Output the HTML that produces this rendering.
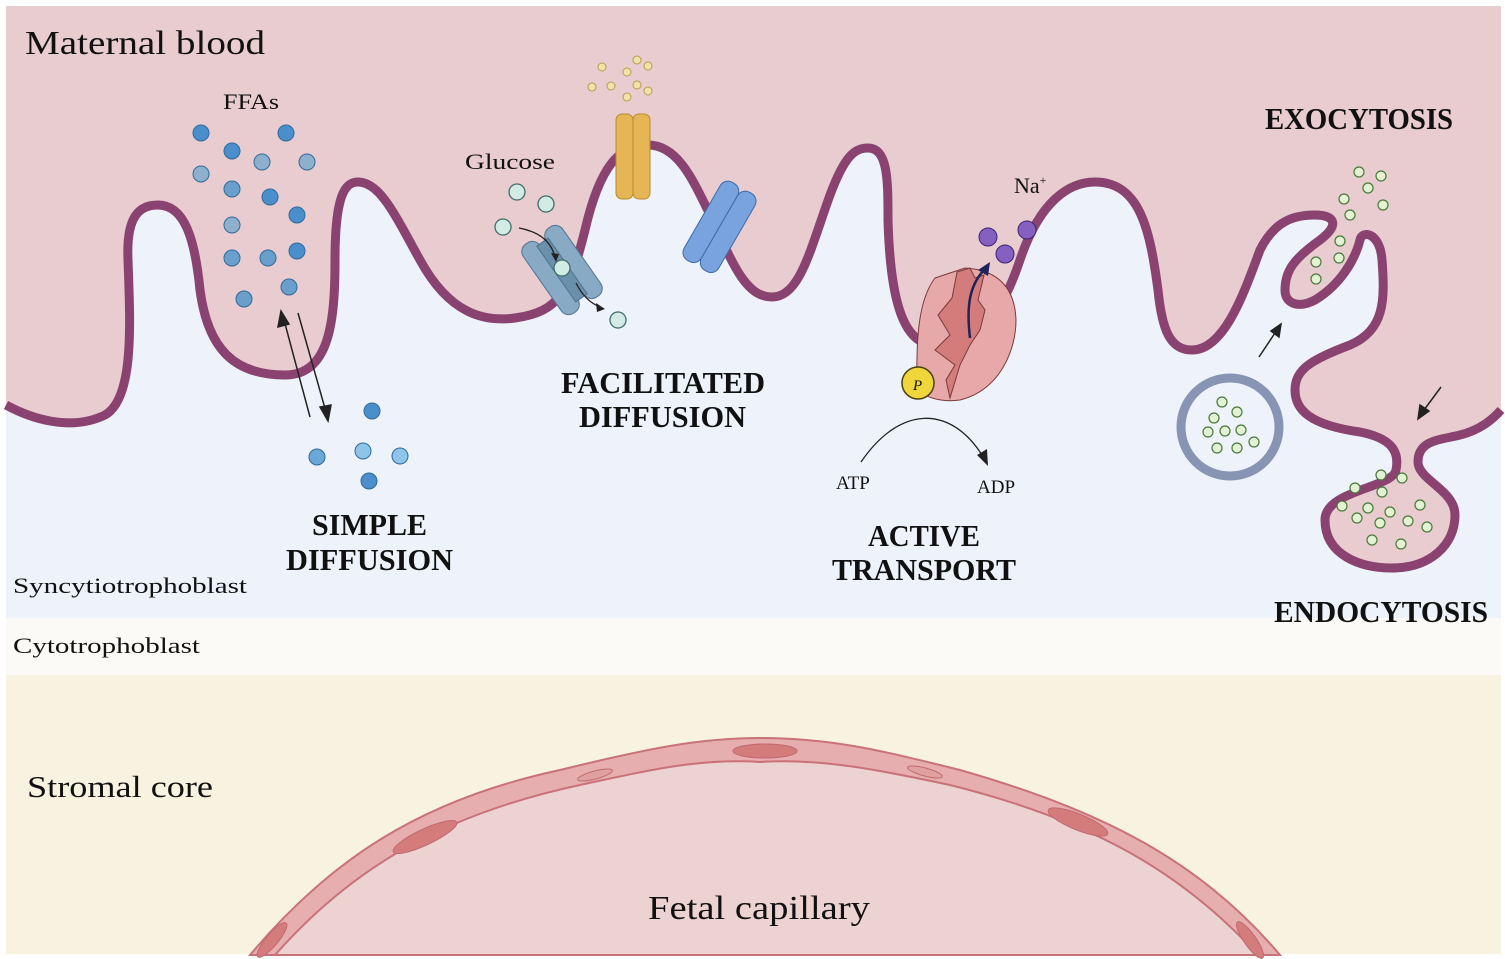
<!DOCTYPE html>
<html><head><meta charset="utf-8"><style>
html,body{margin:0;padding:0;background:#fff;}
svg{display:block;}
text{font-family:"Liberation Serif",serif;fill:#111;}
.b{font-weight:bold;font-size:31px;}
</style></head><body>
<svg width="1505" height="959" viewBox="0 0 1505 959" xmlns="http://www.w3.org/2000/svg">
<rect x="0" y="0" width="1505" height="959" fill="#fff"/>
<rect x="6" y="6" width="1495" height="612" fill="#eef3fb"/>
<rect x="6" y="618" width="1495" height="57" fill="#fcfaf6"/>
<rect x="6" y="675" width="1495" height="279" fill="#f8f2e0"/>
<path d="M250,955 C330,860 420,800 560,770 C650,748 700,738 760,738 C830,738 880,750 960,770 C1100,810 1200,860 1280,955 Z" fill="#e6aeae" stroke="#c9727a" stroke-width="2"/>
<path d="M275,955 C350,870 440,815 580,785 C650,770 700,758 760,762 C820,758 880,770 950,785 C1090,820 1180,870 1258,955 Z" fill="#ecd3d2" stroke="#c9727a" stroke-width="2"/>
<ellipse cx="765" cy="751" rx="32" ry="7" fill="#d47c7c" stroke="#c06a70"/>
<ellipse cx="425" cy="837" rx="35" ry="8" transform="rotate(-25 425 837)" fill="#d47c7c" stroke="#c06a70"/>
<ellipse cx="1078" cy="822" rx="32" ry="8" transform="rotate(22 1078 822)" fill="#d47c7c" stroke="#c06a70"/>
<ellipse cx="272" cy="940" rx="22" ry="6" transform="rotate(-50 272 940)" fill="#d47c7c" stroke="#c06a70"/>
<ellipse cx="1250" cy="940" rx="22" ry="6" transform="rotate(55 1250 940)" fill="#d47c7c" stroke="#c06a70"/>
<ellipse cx="595" cy="775" rx="18" ry="4" transform="rotate(-15 595 775)" fill="#e0a0a0" stroke="#c06a70"/>
<ellipse cx="925" cy="772" rx="18" ry="4" transform="rotate(15 925 772)" fill="#e0a0a0" stroke="#c06a70"/>
<path d="M6,405 C30,418 70,432 105,415 C135,398 130,320 128,260 C126,215 140,205 158,205 C185,205 195,240 200,290 C208,350 235,375 285,375 C330,375 335,320 335,260 C335,195 345,182 358,182 C380,182 395,215 420,260 C450,315 485,322 515,318 C560,312 570,290 585,230 C600,165 620,145 648,145 C680,145 695,185 715,225 C735,270 748,297 772,297 C800,297 810,250 830,195 C845,155 855,148 868,148 C888,148 888,180 888,220 C890,290 900,345 935,345 C975,345 1000,320 1020,260 C1040,200 1070,182 1095,182 C1140,182 1150,230 1158,290 C1162,330 1170,350 1192,350 C1225,350 1245,290 1260,250 C1275,220 1295,215 1315,215 C1335,215 1340,225 1320,240 C1295,258 1285,270 1285,290 C1285,305 1300,308 1315,300 C1340,285 1355,260 1360,240 C1362,230 1380,232 1382,260 C1385,300 1385,330 1350,345 C1310,360 1295,370 1295,390 C1295,410 1310,425 1360,432 C1390,438 1400,450 1396,470 C1393,488 1325,490 1325,520 C1325,555 1360,568 1392,568 C1430,568 1455,545 1455,515 C1455,490 1418,480 1418,462 C1418,440 1440,440 1460,435 C1480,430 1492,420 1501,410 L1501,6 L6,6 Z" fill="#e8ccd0"/>
<path d="M6,405 C30,418 70,432 105,415 C135,398 130,320 128,260 C126,215 140,205 158,205 C185,205 195,240 200,290 C208,350 235,375 285,375 C330,375 335,320 335,260 C335,195 345,182 358,182 C380,182 395,215 420,260 C450,315 485,322 515,318 C560,312 570,290 585,230 C600,165 620,145 648,145 C680,145 695,185 715,225 C735,270 748,297 772,297 C800,297 810,250 830,195 C845,155 855,148 868,148 C888,148 888,180 888,220 C890,290 900,345 935,345 C975,345 1000,320 1020,260 C1040,200 1070,182 1095,182 C1140,182 1150,230 1158,290 C1162,330 1170,350 1192,350 C1225,350 1245,290 1260,250 C1275,220 1295,215 1315,215 C1335,215 1340,225 1320,240 C1295,258 1285,270 1285,290 C1285,305 1300,308 1315,300 C1340,285 1355,260 1360,240 C1362,230 1380,232 1382,260 C1385,300 1385,330 1350,345 C1310,360 1295,370 1295,390 C1295,410 1310,425 1360,432 C1390,438 1400,450 1396,470 C1393,488 1325,490 1325,520 C1325,555 1360,568 1392,568 C1430,568 1455,545 1455,515 C1455,490 1418,480 1418,462 C1418,440 1440,440 1460,435 C1480,430 1492,420 1501,410" fill="none" stroke="#8a4270" stroke-width="9" stroke-linejoin="round"/>
<text x="25" y="54" font-size="34" textLength="240" lengthAdjust="spacingAndGlyphs">Maternal blood</text>
<text x="223" y="109" font-size="22" textLength="56" lengthAdjust="spacingAndGlyphs">FFAs</text>
<text x="465" y="169" font-size="22" textLength="90" lengthAdjust="spacingAndGlyphs">Glucose</text>
<text x="1014" y="193" font-size="22">Na<tspan font-size="12" dy="-9">+</tspan></text>
<text x="1265" y="129" class="b" textLength="188" lengthAdjust="spacingAndGlyphs">EXOCYTOSIS</text>
<text x="312" y="535" class="b" textLength="115" lengthAdjust="spacingAndGlyphs">SIMPLE</text>
<text x="286" y="570" class="b" textLength="167" lengthAdjust="spacingAndGlyphs">DIFFUSION</text>
<text x="561" y="393" class="b" textLength="204" lengthAdjust="spacingAndGlyphs">FACILITATED</text>
<text x="579" y="427" class="b" textLength="167" lengthAdjust="spacingAndGlyphs">DIFFUSION</text>
<text x="868" y="546" class="b" textLength="112" lengthAdjust="spacingAndGlyphs">ACTIVE</text>
<text x="832" y="580" class="b" textLength="184" lengthAdjust="spacingAndGlyphs">TRANSPORT</text>
<text x="1274" y="622" class="b" textLength="214" lengthAdjust="spacingAndGlyphs">ENDOCYTOSIS</text>
<text x="13" y="593" font-size="22" textLength="234" lengthAdjust="spacingAndGlyphs">Syncytiotrophoblast</text>
<text x="13" y="653" font-size="22" textLength="187" lengthAdjust="spacingAndGlyphs">Cytotrophoblast</text>
<text x="27" y="797" font-size="31" textLength="186" lengthAdjust="spacingAndGlyphs">Stromal core</text>
<text x="648" y="919" font-size="34" textLength="222" lengthAdjust="spacingAndGlyphs">Fetal capillary</text>
<text x="836" y="489" font-size="19">ATP</text>
<text x="977" y="493" font-size="19">ADP</text>
<g stroke="#2f6a9a" stroke-width="1">
<circle cx="201" cy="133" r="8" fill="#4a8fcc"/><circle cx="286" cy="133" r="8" fill="#4a8fcc"/>
<circle cx="232" cy="151" r="8" fill="#4a8fcc"/><circle cx="262" cy="162" r="8" fill="#8fb0cc"/>
<circle cx="307" cy="162" r="8" fill="#8fb0cc"/><circle cx="201" cy="174" r="8" fill="#8fb0cc"/>
<circle cx="232" cy="189" r="8" fill="#6a9fcc"/><circle cx="270" cy="197" r="8" fill="#4a8fcc"/>
<circle cx="297" cy="215" r="8" fill="#4a8fcc"/><circle cx="232" cy="225" r="8" fill="#8fb0cc"/>
<circle cx="232" cy="258" r="8" fill="#6a9fcc"/><circle cx="268" cy="258" r="8" fill="#6a9fcc"/>
<circle cx="297" cy="251" r="8" fill="#4a8fcc"/><circle cx="289" cy="287" r="8" fill="#6a9fcc"/>
<circle cx="244" cy="299" r="8" fill="#6a9fcc"/>
<circle cx="372" cy="411" r="8" fill="#4a8fcc"/><circle cx="317" cy="457" r="8" fill="#6aa8d8"/>
<circle cx="363" cy="451" r="8" fill="#8ec4e8"/><circle cx="400" cy="456" r="8" fill="#8ec4e8"/>
<circle cx="369" cy="481" r="8" fill="#4a8fcc"/>
</g>
<g stroke="#222" stroke-width="1.5" fill="#222">
<line x1="310" y1="417" x2="284" y2="320"/><polygon points="281,311 278,327 289,324"/>
<line x1="298" y1="313" x2="326" y2="412"/><polygon points="328,421 320,407 331,405"/>
</g>
<rect x="616" y="114" width="17" height="85" rx="6" fill="#e6b556" stroke="#b88a2a"/>
<rect x="633" y="114" width="17" height="85" rx="6" fill="#e6b556" stroke="#b88a2a"/>
<g fill="#f1e2a8" stroke="#b89a50" stroke-width="1">
<circle cx="602" cy="67" r="4"/><circle cx="637" cy="60" r="4"/><circle cx="648" cy="66" r="4"/>
<circle cx="627" cy="72" r="4"/><circle cx="592" cy="87" r="4"/><circle cx="611" cy="86" r="4"/>
<circle cx="637" cy="85" r="4"/><circle cx="648" cy="91" r="4"/><circle cx="627" cy="97" r="4"/>
</g>
<g transform="rotate(30 720 226)">
<rect x="700" y="182" width="20" height="90" rx="9" fill="#78a3de" stroke="#3d6aa8"/>
<rect x="720" y="182" width="20" height="90" rx="9" fill="#78a3de" stroke="#3d6aa8"/>
</g>
<g transform="rotate(-35 562 270)">
<rect x="538" y="228" width="20" height="84" rx="9" fill="#88aac4" stroke="#4e7390"/>
<rect x="566" y="228" width="20" height="84" rx="9" fill="#88aac4" stroke="#4e7390"/>
<rect x="555" y="236" width="14" height="68" fill="#6a90ab" stroke="#4e7390"/>
</g>
<g fill="#d3ebe5" stroke="#3f6e68" stroke-width="1.3">
<circle cx="517" cy="192" r="8"/><circle cx="546" cy="204" r="8"/><circle cx="503" cy="227" r="8"/>
<circle cx="562" cy="268" r="8"/><circle cx="618" cy="320" r="8"/>
</g>
<path d="M519,228 C540,232 552,242 555,258" fill="none" stroke="#222" stroke-width="1.3"/>
<polygon points="556,262 551,253 559,254" fill="#222"/>
<path d="M576,283 C582,295 590,303 600,307" fill="none" stroke="#222" stroke-width="1.3"/>
<polygon points="605,309 596,303 597,312" fill="#222"/>
<path d="M935,278 L965,268 C1000,270 1015,290 1016,320 C1016,350 1000,390 960,400 C945,402 930,400 917,390 C916,340 918,300 935,278 Z" fill="#e6a8a8" stroke="#7a3a3a" stroke-width="1"/>
<path d="M957,272 L970,268 L975,278 L984,275 L978,300 L985,310 L980,330 L970,345 L960,365 L950,398 L946,380 L955,365 L935,350 L950,335 L938,315 L952,298 Z" fill="#d47c7c" stroke="#7a3a3a" stroke-width="1"/>
<path d="M970,338 C966,305 970,285 984,270" fill="none" stroke="#1e2358" stroke-width="2.5"/>
<polygon points="990,262 978,270 988,276" fill="#1e2358"/>
<circle cx="918" cy="383" r="16" fill="#f0d63a" stroke="#4a4010" stroke-width="1.5"/>
<text x="913" y="390" font-size="15" font-style="italic">P</text>
<g fill="#8560c0" stroke="#3a2370" stroke-width="1">
<circle cx="988" cy="237" r="9"/><circle cx="1027" cy="230" r="9"/><circle cx="1005" cy="254" r="9"/>
</g>
<path d="M861,462 C900,405 950,405 982,455" fill="none" stroke="#222" stroke-width="1.3"/>
<polygon points="988,466 977,455 987,449" fill="#222"/>
<circle cx="1230" cy="427" r="49" fill="#eef3fb" stroke="#8794b3" stroke-width="9"/>
<g fill="#e2f2d2" stroke="#4a7a3a" stroke-width="1.2">
<circle cx="1222" cy="402" r="5"/><circle cx="1237" cy="412" r="5"/><circle cx="1214" cy="418" r="5"/>
<circle cx="1225" cy="431" r="5"/><circle cx="1241" cy="430" r="5"/><circle cx="1208" cy="432" r="5"/>
<circle cx="1217" cy="448" r="5"/><circle cx="1237" cy="448" r="5"/><circle cx="1254" cy="442" r="5"/>
<circle cx="1359" cy="172" r="5"/><circle cx="1381" cy="176" r="5"/><circle cx="1368" cy="188" r="5"/>
<circle cx="1344" cy="199" r="5"/><circle cx="1383" cy="205" r="5"/><circle cx="1350" cy="215" r="5"/>
<circle cx="1340" cy="241" r="5"/><circle cx="1339" cy="258" r="5"/><circle cx="1316" cy="262" r="5"/>
<circle cx="1316" cy="279" r="5"/>
<circle cx="1381" cy="475" r="5"/><circle cx="1402" cy="478" r="5"/><circle cx="1355" cy="488" r="5"/>
<circle cx="1382" cy="492" r="5"/><circle cx="1342" cy="506" r="5"/><circle cx="1368" cy="508" r="5"/>
<circle cx="1390" cy="512" r="5"/><circle cx="1420" cy="505" r="5"/><circle cx="1357" cy="518" r="5"/>
<circle cx="1380" cy="523" r="5"/><circle cx="1408" cy="521" r="5"/><circle cx="1427" cy="527" r="5"/>
<circle cx="1372" cy="540" r="5"/><circle cx="1401" cy="544" r="5"/>
</g>
<g stroke="#222" stroke-width="1.5" fill="#222">
<line x1="1259" y1="357" x2="1275" y2="333"/><polygon points="1281,324 1271,331 1279,337"/>
<line x1="1441" y1="387" x2="1424" y2="410"/><polygon points="1418,419 1420,405 1429,411"/>
</g>
</svg>
</body></html>
